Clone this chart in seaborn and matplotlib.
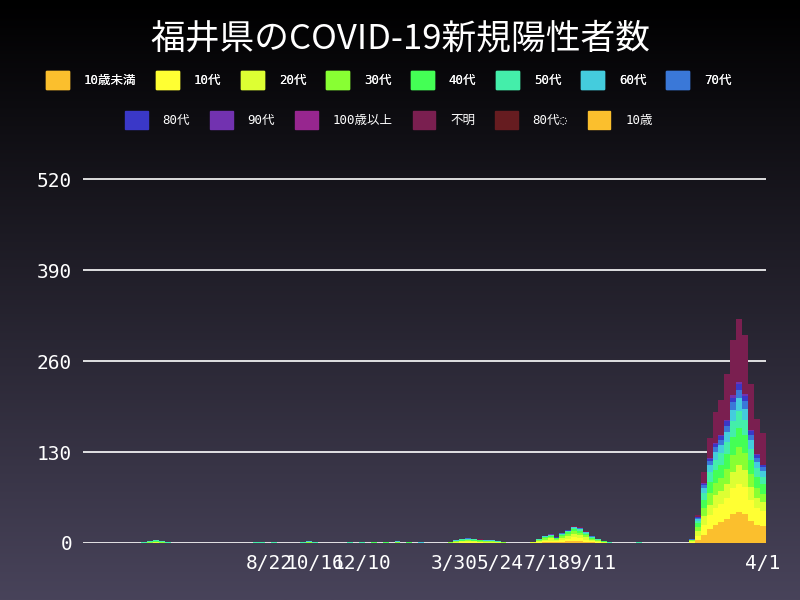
import numpy as np
import pandas as pd
import matplotlib
matplotlib.use('Agg')
import matplotlib.pyplot as plt
import matplotlib.dates as mdates
from matplotlib.patches import Patch
import seaborn as sns

# weekly data, daily average of new cases per week (week start = Monday)
week_start = ['2020-03-23', '2020-03-30', '2020-04-06', '2020-04-13', '2020-04-20',
              '2020-08-03', '2020-08-10', '2020-08-24',
              '2020-09-28', '2020-10-05', '2020-10-12',
              '2020-11-23', '2020-12-07', '2020-12-21', '2021-01-04', '2021-01-18', '2021-02-01', '2021-02-15',
              '2021-03-22', '2021-03-29', '2021-04-05', '2021-04-12', '2021-04-19', '2021-04-26', '2021-05-03',
              '2021-05-10', '2021-05-17', '2021-05-24',
              '2021-06-28', '2021-07-05', '2021-07-12', '2021-07-19', '2021-07-26', '2021-08-02', '2021-08-09',
              '2021-08-16', '2021-08-23', '2021-08-30', '2021-09-06', '2021-09-13', '2021-09-20', '2021-09-27',
              '2021-11-01',
              '2022-01-03', '2022-01-10', '2022-01-17', '2022-01-24', '2022-01-31', '2022-02-07', '2022-02-14',
              '2022-02-21', '2022-02-28', '2022-03-07', '2022-03-14', '2022-03-21', '2022-03-28']

age_u10 = [0, 0, 0, 0, 0, 0, 0, 0, 0, 0, 0, 0, 0, 0, 0, 0, 0, 0,
           0, 0.3, 0.5, 0.5, 0.5, 0.4, 0.3, 0.3, 0.2, 0.1,
           0.1, 0.5, 1, 1.5, 1, 2, 2.5, 3.5, 3, 2, 1.2, 0.6, 0.3, 0, 0,
           0.5, 4, 12, 20, 26, 30, 35, 42, 45, 42, 32, 26, 24]
age_10 = [0, 0, 0.2, 0, 0, 0, 0, 0, 0, 0, 0, 0, 0, 0, 0, 0, 0, 0,
          0.2, 0.4, 0.7, 0.8, 0.7, 0.6, 0.4, 0.4, 0.3, 0.2,
          0.2, 0.8, 1.5, 2, 1.2, 2.5, 3.5, 4.5, 4, 3, 1.5, 0.8, 0.4, 0.1, 0,
          0.8, 6, 14, 20, 24, 26, 30, 36, 40, 38, 30, 24, 22]
age_20 = [0.2, 0.5, 0.8, 0.5, 0.2, 0.3, 0.3, 0.2, 0.2, 0.4, 0.2, 0.2, 0.2, 0.4, 0.4, 0.5, 0.4, 0.2,
          0.4, 0.8, 1.2, 1.4, 1.2, 1, 0.8, 0.8, 0.6, 0.4,
          0.6, 1.5, 2.5, 3, 2, 3, 4, 5, 4.5, 3.5, 2, 1.2, 0.6, 0.2, 0.2,
          1.5, 7, 12, 15, 18, 18, 20, 24, 26, 24, 18, 14, 12]
age_30 = [0.2, 0.5, 0.8, 0.5, 0.2, 0.2, 0.2, 0.2, 0.2, 0.4, 0.2, 0.2, 0.2, 0.3, 0.3, 0.5, 0.3, 0.2,
          0.4, 0.7, 1, 1.2, 1, 0.9, 0.7, 0.7, 0.5, 0.4,
          0.4, 1, 1.5, 2, 1.3, 2.2, 2.8, 3.5, 3.4, 2.6, 1.6, 1, 0.5, 0.2, 0.2,
          1, 6, 12, 16, 18, 19, 21, 24, 26, 24, 18, 14, 12]
age_40 = [0.2, 0.6, 1, 0.6, 0.2, 0.2, 0.2, 0.2, 0.2, 0.5, 0.2, 0.2, 0.2, 0.3, 0.3, 0.5, 0.3, 0.1,
          0.3, 0.6, 1, 1.1, 1, 0.8, 0.7, 0.6, 0.5, 0.3,
          0.3, 0.9, 1.4, 1.6, 1.1, 1.8, 2.3, 3, 2.8, 2.2, 1.4, 0.9, 0.5, 0.2, 0.2,
          0.6, 5, 12, 16, 18, 19, 21, 26, 28, 26, 20, 16, 14]
age_50 = [0.2, 0.6, 1, 0.6, 0.2, 0.1, 0.1, 0.2, 0.2, 0.5, 0.2, 0.2, 0.2, 0.3, 0.3, 0.4, 0.3, 0.2,
          0.2, 0.5, 0.7, 0.8, 0.7, 0.6, 0.5, 0.5, 0.4, 0.2,
          0.2, 0.6, 1, 1, 0.7, 1.2, 1.5, 2, 1.8, 1.4, 1, 0.6, 0.3, 0.1, 0.2,
          0.4, 4, 10, 14, 15, 16, 18, 22, 24, 22, 17, 13, 11]
age_60 = [0.1, 0.4, 0.6, 0.4, 0.1, 0.1, 0.1, 0.1, 0.1, 0.4, 0.2, 0.1, 0.1, 0.2, 0.2, 0.3, 0.2, 0.1,
          0.1, 0.3, 0.5, 0.5, 0.4, 0.4, 0.3, 0.3, 0.2, 0.2,
          0.1, 0.3, 0.5, 0.5, 0.3, 0.6, 0.7, 1, 0.9, 0.6, 0.4, 0.3, 0.2, 0.1, 0.1,
          0.2, 2.5, 7, 10, 11, 12, 14, 16, 18, 16, 12, 9, 8]
age_70 = [0.05, 0.2, 0.3, 0.2, 0.1, 0.1, 0.1, 0.1, 0.1, 0.4, 0.1, 0.1, 0.1, 0.2, 0.2, 0.2, 0.2, 0.1,
          0.1, 0.2, 0.3, 0.3, 0.3, 0.2, 0.2, 0.2, 0.1, 0.1,
          0.05, 0.2, 0.3, 0.3, 0.2, 0.3, 0.4, 0.5, 0.5, 0.4, 0.3, 0.2, 0.1, 0.05, 0.1,
          0.1, 1.5, 4, 6, 7, 8, 9, 11, 12, 11, 8, 6, 5]
age_80 = [0.05, 0.1, 0.2, 0.1, 0, 0, 0, 0, 0, 0.3, 0.1, 0, 0, 0.1, 0.1, 0.1, 0.1, 0,
          0, 0.1, 0.1, 0.2, 0.1, 0.1, 0.1, 0.1, 0, 0,
          0, 0.1, 0.1, 0.2, 0.1, 0.2, 0.2, 0.3, 0.3, 0.2, 0.1, 0.1, 0.05, 0, 0,
          0, 0.8, 2, 3, 4, 5, 6, 7, 8, 7, 5, 4, 3]
age_90 = [0, 0, 0.1, 0, 0, 0, 0, 0, 0, 0.1, 0, 0, 0, 0, 0.1, 0.1, 0, 0,
          0, 0, 0.1, 0.1, 0.1, 0, 0, 0, 0, 0,
          0, 0, 0, 0.1, 0, 0.1, 0.1, 0.1, 0.1, 0.1, 0, 0, 0, 0, 0,
          0, 0.3, 1, 1.5, 2, 2, 2.5, 3, 3.5, 3, 2, 1.5, 1.2]
age_unknown = [0, 0, 0, 0, 0, 0, 0, 0, 0, 0, 0, 0, 0, 0, 0, 0.2, 0, 0,
               0, 0, 0.2, 0.3, 0.2, 0.1, 0, 0, 0, 0,
               0, 0, 0.3, 0.3, 0.2, 0.5, 0.8, 1, 1, 0.6, 0.3, 0, 0, 0, 0.2,
               0, 3, 15, 28, 45, 50, 65, 80, 90, 85, 65, 50, 45]

labels = ['10歳未満', '10代', '20代', '30代', '40代', '50代', '60代', '70代',
          '80代', '90代', '100歳以上', '不明', '80代◌', '10歳']
colors = ['#fbbf2d', '#ffff33', '#ddff33', '#88ff33', '#44ff55', '#44eeaa', '#44ccdd', '#3a78d8',
          '#3a38c8', '#7232b0', '#97268f', '#7a1f50', '#661c20', '#fbbf2d']
series = {'10歳未満': age_u10, '10代': age_10, '20代': age_20, '30代': age_30, '40代': age_40,
          '50代': age_50, '60代': age_60, '70代': age_70, '80代': age_80, '90代': age_90,
          '不明': age_unknown}
palette = dict(zip(labels, colors))

rows = []
for name, vals in series.items():
    for d, v in zip(week_start, vals):
        rows.append((mdates.date2num(pd.Timestamp(d)) + 3.5, name, v))
df = pd.DataFrame(rows, columns=['x', 'age', 'n'])

plt.rcParams['font.family'] = ['DejaVu Sans Mono', 'Noto Sans CJK JP']
fig = plt.figure(figsize=(8, 6), dpi=100)

bg = fig.add_axes([0, 0, 1, 1], zorder=-10)
grad = np.linspace(0, 1, 256)[:, None]
cmap = matplotlib.colors.LinearSegmentedColormap.from_list('bg', ['#000000', '#48435a'])
bg.imshow(grad, aspect='auto', cmap=cmap, extent=[0, 1, 0, 1])
bg.axis('off')

ax = fig.add_axes([0.104, 0.095, 0.853, 0.655])
ax.set_facecolor('none')
for v in [0, 130, 260, 390, 520]:
    ax.axhline(v, color='white', lw=1.2, zorder=0)

x0 = mdates.date2num(pd.Timestamp('2020-03-23'))
x1 = mdates.date2num(pd.Timestamp('2022-04-04'))
order = list(series.keys())[::-1]
sns.histplot(data=df, x='x', hue='age', weights='n', binwidth=7, binrange=(x0, x1),
             multiple='stack', hue_order=order, palette=palette, linewidth=0, alpha=1,
             legend=False, ax=ax)

ax.set_xlim(mdates.date2num(pd.Timestamp('2020-01-14')), x1)
ax.set_ylim(0, 562)
tick_dates = ['2020-08-22', '2020-10-16', '2020-12-10', '2021-03-30', '2021-05-24',
              '2021-07-18', '2021-09-11', '2022-04-01']
tick_labels = ['8/22', '10/16', '12/10', '3/30', '5/24', '7/18', '9/11', '4/1']
ax.set_xticks([mdates.date2num(pd.Timestamp(d)) for d in tick_dates])
ax.set_xticklabels(tick_labels)
ax.set_yticks([0, 130, 260, 390, 520])
ax.tick_params(colors='white', labelsize=14, length=0, pad=8)
ax.set_xlabel('')
ax.set_ylabel('')
for s in ax.spines.values():
    s.set_visible(False)

fig.text(0.5, 0.935, '福井県のCOVID-19新規陽性者数', color='white', fontsize=25,
         ha='center', va='center', family=['Noto Sans CJK JP', 'DejaVu Sans'])

h = [Patch(color=palette[l], label=l) for l in labels]
leg_kw = dict(loc='center', frameon=False, fontsize=9, labelcolor='white', handlelength=1.8,
              handleheight=1.8, columnspacing=1.6, handletextpad=1.2,
              prop={'family': ['DejaVu Sans Mono', 'Noto Sans CJK JP'], 'size': 9})
leg1 = fig.legend(handles=h[:8], bbox_to_anchor=(0.486, 0.867), ncol=8, **leg_kw)
leg2 = fig.legend(handles=h[8:], bbox_to_anchor=(0.486, 0.8), ncol=6, **leg_kw)
fig.add_artist(leg1)

fig.savefig('out.png', dpi=100)
